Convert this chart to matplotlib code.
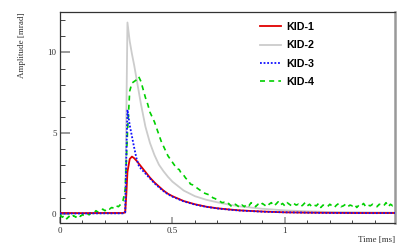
import numpy as np
import matplotlib
matplotlib.use("Agg")
import matplotlib.pyplot as plt
from matplotlib.ticker import MultipleLocator, FuncFormatter

# KID-1 (red)
t_kid1 = [0.0, 0.1, 0.2, 0.28, 0.29, 0.295, 0.30, 0.31, 0.32, 0.33, 0.34, 0.36, 0.38, 0.40,
          0.42, 0.44, 0.46, 0.48, 0.50, 0.55, 0.60, 0.65, 0.70, 0.75, 0.80, 0.90, 1.00,
          1.10, 1.20, 1.30, 1.40, 1.49]
v_kid1 = [0.06, 0.05, 0.06, 0.06, 0.1, 1.2, 2.6, 3.4, 3.55, 3.45, 3.3, 2.95, 2.6, 2.25,
          1.95, 1.7, 1.45, 1.25, 1.1, 0.8, 0.6, 0.45, 0.35, 0.28, 0.22, 0.15, 0.1,
          0.08, 0.07, 0.06, 0.06, 0.06]

# KID-2 (grey)
t_kid2 = [0.0, 0.1, 0.2, 0.28, 0.29, 0.295, 0.30, 0.31, 0.32, 0.33, 0.34, 0.35, 0.36, 0.37,
          0.38, 0.40, 0.42, 0.44, 0.46, 0.48, 0.50, 0.55, 0.60, 0.65, 0.70, 0.75, 0.80,
          0.90, 1.00, 1.10, 1.20, 1.49]
v_kid2 = [0.04, 0.04, 0.04, 0.04, 0.1, 6.0, 11.85, 10.7, 9.9, 9.2, 8.4, 7.6, 6.8, 6.1,
          5.4, 4.4, 3.65, 3.05, 2.65, 2.3, 2.0, 1.45, 1.1, 0.88, 0.72, 0.58, 0.47,
          0.32, 0.22, 0.16, 0.12, 0.08]

# KID-3 (blue)
t_kid3 = [0.0, 0.1, 0.2, 0.28, 0.29, 0.295, 0.30, 0.31, 0.32, 0.33, 0.34, 0.35, 0.36, 0.38,
          0.40, 0.42, 0.44, 0.46, 0.48, 0.50, 0.55, 0.60, 0.65, 0.70, 0.75, 0.80, 0.90,
          1.00, 1.10, 1.20, 1.30, 1.40, 1.49]
v_kid3 = [0.03, 0.03, 0.04, 0.04, 0.1, 3.5, 6.45, 5.5, 4.8, 4.1, 3.45, 3.0, 2.8, 2.5,
          2.2, 1.9, 1.65, 1.42, 1.22, 1.07, 0.78, 0.58, 0.44, 0.34, 0.27, 0.21, 0.14,
          0.1, 0.08, 0.06, 0.06, 0.05, 0.06]

# KID-4 (green), sampled every 0.01 ms
t4_step = 0.01
v_kid4 = [-0.05, -0.2, -0.1, -0.3, -0.15, -0.25, -0.1, -0.2, -0.05, -0.15,
          -0.05, -0.1, 0.0, -0.05, 0.1, 0.05, 0.2, 0.1, 0.15, 0.3,
          0.2, 0.35, 0.3, 0.4, 0.35, 0.5, 0.45, 0.6, 0.8, 1.5,
          5.0, 7.6, 8.1, 8.2, 8.3, 8.5, 8.2, 7.7, 7.2, 6.8,
          6.3, 6.0, 5.7, 5.3, 4.9, 4.5, 4.2, 3.9, 3.6, 3.4,
          3.2, 3.0, 2.8, 2.75, 2.5, 2.4, 2.2, 2.1, 1.85, 1.8,
          1.7, 1.6, 1.5, 1.4, 1.3, 1.25, 1.2, 1.15, 1.0, 0.95,
          0.85, 0.8, 0.7, 0.72, 0.6, 0.65, 0.5, 0.45, 0.6, 0.5,
          0.4, 0.55, 0.45, 0.6, 0.5, 0.7, 0.55, 0.45, 0.6, 0.5,
          0.65, 0.55, 0.45, 0.6, 0.7, 0.5, 0.6, 0.75, 0.55, 0.65,
          0.5, 0.7, 0.6, 0.5, 0.65, 0.55, 0.6, 0.45, 0.55, 0.7,
          0.5, 0.6, 0.45, 0.55, 0.5, 0.65, 0.4, 0.55, 0.5, 0.45,
          0.6, 0.5, 0.4, 0.55, 0.65, 0.45, 0.5, 0.6, 0.45, 0.55,
          0.5, 0.6, 0.4, 0.55, 0.5, 0.65, 0.45, 0.55, 0.5, 0.6,
          0.5, 0.45, 0.6, 0.55, 0.5, 0.7, 0.45, 0.6, 0.5, 0.55]
t_kid4 = np.arange(len(v_kid4)) * t4_step

labels = ["KID-1", "KID-2", "KID-3", "KID-4"]

fig = plt.figure(figsize=(3.99, 2.49), dpi=100)
ax = fig.add_axes([60/399, 1-223/249, 335/399, 211/249])

ax.plot(t_kid2, v_kid2, color="#cccccc", lw=1.3, label=labels[1], zorder=2)
ax.plot(t_kid4, v_kid4, color="#00d000", lw=1.2, ls=(0, (3, 2.5)), label=labels[3], zorder=3)
ax.plot(t_kid1, v_kid1, color="#e00000", lw=1.3, label=labels[0], zorder=4)
ax.plot(t_kid3, v_kid3, color="#1010ff", lw=1.3, ls=(0, (1, 1)), label=labels[2], zorder=5)

ax.set_xlim(0, 1.49)
ax.set_ylim(-0.56, 12.5)

serif = "Liberation Serif"
ax.xaxis.set_major_locator(MultipleLocator(0.5))
ax.xaxis.set_minor_locator(MultipleLocator(0.1))
ax.yaxis.set_major_locator(MultipleLocator(5))
ax.yaxis.set_minor_locator(MultipleLocator(1))
ax.xaxis.set_major_formatter(FuncFormatter(lambda v, p: "%g" % v))
ax.tick_params(axis="x", which="major", direction="in", length=4, width=1.2, color="#999999",
               labelsize=6.5, pad=3)
ax.tick_params(axis="x", which="minor", direction="in", length=2.2, width=0.7, color="#444444")
ax.tick_params(axis="y", which="major", direction="in", length=7, width=1.2, color="#888888",
               labelsize=6.5, pad=2.5)
ax.tick_params(axis="y", which="minor", direction="in", length=3.5, width=0.7, color="#444444")
for lab in ax.get_xticklabels() + ax.get_yticklabels():
    lab.set_family(serif)
    lab.set_color("#333333")

for s in ["left", "bottom", "top"]:
    ax.spines[s].set_color("#333333")
    ax.spines[s].set_linewidth(0.9)
ax.spines["right"].set_color("#999999")
ax.spines["right"].set_linewidth(1.8)

fig.text(22/399, 1-12/249, "Amplitude [mrad]", rotation=90, ha="center", va="top",
         family=serif, fontsize=6.5, color="#333333")
fig.text(395/399, 1-240/249, "Time [ms]", ha="right", va="center",
         family=serif, fontsize=6.5, color="#333333")

h, l = ax.get_legend_handles_labels()
order = [l.index(x) for x in labels]
leg = ax.legend([h[i] for i in order], [l[i] for i in order], loc="upper left",
                bbox_to_anchor=(260/399, 1-22/249), bbox_transform=fig.transFigure,
                frameon=False, borderpad=0, borderaxespad=0, handlelength=2.0,
                handletextpad=0.5, labelspacing=0.78,
                prop={"family": "Liberation Sans", "weight": "bold", "size": 7.7})

fig.savefig("out.png", dpi=100)
